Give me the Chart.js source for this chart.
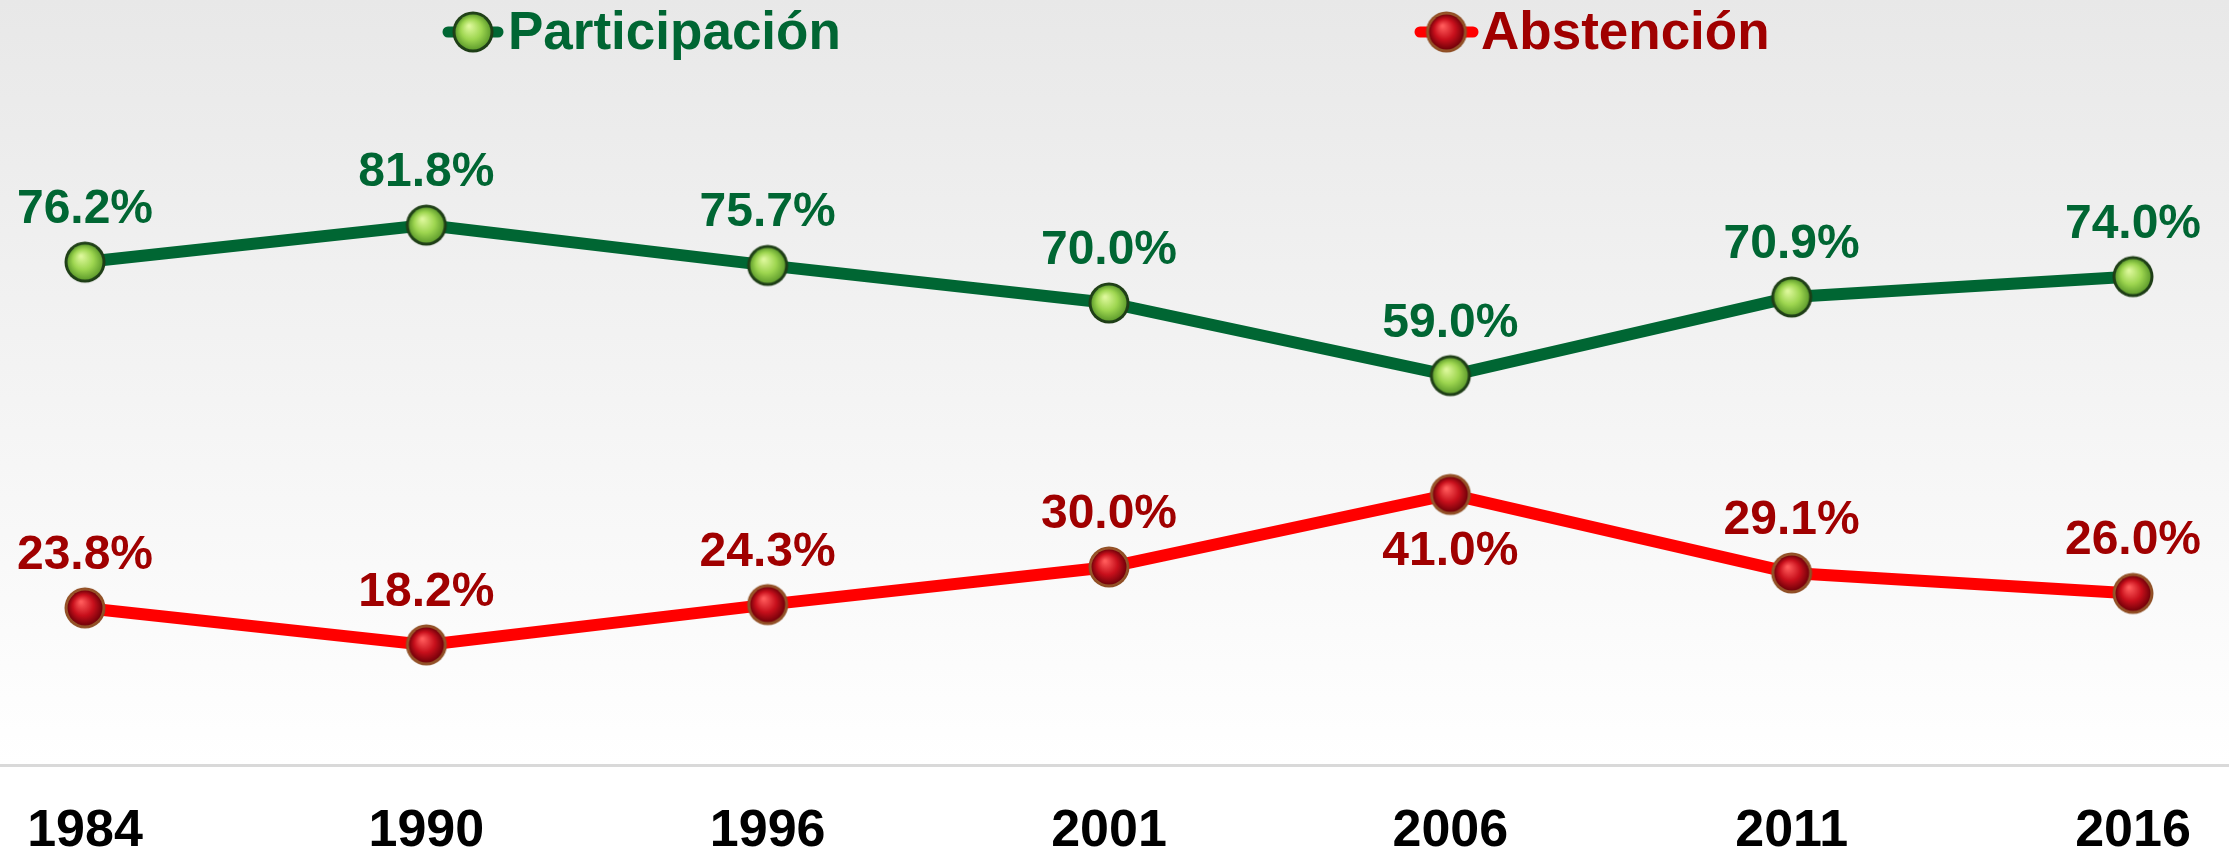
<!DOCTYPE html>
<html>
<head>
<meta charset="utf-8">
<script src="https://cdn.jsdelivr.net/npm/chart.js@4.4.1/dist/chart.umd.min.js"></script>
<style>
  html, body { margin: 0; padding: 0; background: #fff; }
  #wrap { position: relative; width: 2229px; height: 851px; }
</style>
</head>
<body>
<div id="wrap"><canvas id="chart"></canvas></div>
<script>
"use strict";

// Election years on the x axis and turnout shares (%) per year.
const YEARS = ["1984", "1990", "1996", "2001", "2006", "2011", "2016"];
const PARTICIPACION = [76.2, 81.8, 75.7, 70.0, 59.0, 70.9, 74.0];
const ABSTENCION = [23.8, 18.2, 24.3, 30.0, 41.0, 29.1, 26.0];

const FONT = "'Liberation Sans', Arial, sans-serif";
const AXIS_Y = 765;

// Glossy ball marker drawn once into an offscreen canvas.
function makeBall(ring, ringDark, hi, mid, edge) {
  const size = 44, c = size / 2;
  const cv = document.createElement("canvas");
  cv.width = size; cv.height = size;
  const g = cv.getContext("2d");
  const rg = g.createRadialGradient(c - 4, c - 5, 2, c, c, 21);
  rg.addColorStop(0, ring);
  rg.addColorStop(1, ringDark);
  g.beginPath(); g.arc(c, c, 20.5, 0, Math.PI * 2); g.fillStyle = rg; g.fill();
  const fg = g.createRadialGradient(c - 4, c - 6, 1, c, c, 18);
  fg.addColorStop(0, hi);
  fg.addColorStop(0.55, mid);
  fg.addColorStop(1, edge);
  g.beginPath(); g.arc(c, c, 17.5, 0, Math.PI * 2); g.fillStyle = fg; g.fill();
  return cv;
}

const greenBall = makeBall("#3d6b2e", "#1b3a14", "#dcf79a", "#9ed650", "#5e9c2c");
const redBall = makeBall("#e09050", "#8a4a22", "#ff5a5a", "#c8101c", "#6e0008");

// Page background: soft grey fading to white, plus the baseline rule.
const backdrop = {
  id: "backdrop",
  beforeDraw(chart) {
    const { ctx, width, height } = chart;
    ctx.save();
    const bg = ctx.createLinearGradient(0, 0, 0, AXIS_Y);
    bg.addColorStop(0, "#e8e8e8");
    bg.addColorStop(1, "#ffffff");
    ctx.fillStyle = bg;
    ctx.fillRect(0, 0, width, AXIS_Y);
    ctx.fillStyle = "#ffffff";
    ctx.fillRect(0, AXIS_Y, width, height - AXIS_Y);
    ctx.fillStyle = "#d9d9d9";
    ctx.fillRect(0, AXIS_Y - 1, width, 3);
    ctx.restore();
  },
};

// Percentage labels next to each point; the red peak gets its label underneath.
const valueLabels = {
  id: "valueLabels",
  afterDatasetsDraw(chart) {
    const { ctx } = chart;
    ctx.save();
    ctx.font = `bold 48px ${FONT}`;
    ctx.textAlign = "center";
    ctx.textBaseline = "alphabetic";
    chart.data.datasets.forEach((ds, di) => {
      const meta = chart.getDatasetMeta(di);
      const peak = Math.max(...ds.data);
      meta.data.forEach((pt, i) => {
        const v = ds.data[i];
        const below = ds.labelBelowPeak && v === peak;
        ctx.fillStyle = ds.textColor;
        ctx.fillText(v.toFixed(1) + "%", pt.x, below ? pt.y + 71 : pt.y - 39);
      });
    });
    ctx.restore();
  },
};

// Legend laid out like the original: two widely spaced entries at the top.
const topLegend = {
  id: "topLegend",
  afterDraw(chart) {
    const { ctx } = chart;
    const spots = [
      { x0: 443, x1: 503, tx: 508 },
      { x0: 1415, x1: 1478, tx: 1481 },
    ];
    ctx.save();
    chart.data.datasets.forEach((ds, i) => {
      const s = spots[i];
      const cy = 32;
      ctx.strokeStyle = ds.borderColor;
      ctx.lineWidth = 11;
      ctx.lineCap = "round";
      ctx.beginPath(); ctx.moveTo(s.x0 + 5, cy); ctx.lineTo(s.x1 - 5, cy); ctx.stroke();
      const img = ds.pointStyle;
      const cx = (s.x0 + s.x1) / 2;
      ctx.drawImage(img, cx - img.width / 2, cy - img.height / 2);
      ctx.fillStyle = ds.textColor;
      ctx.font = `bold 53px ${FONT}`;
      ctx.textAlign = "left";
      ctx.textBaseline = "alphabetic";
      ctx.fillText(ds.label, s.tx, 49);
    });
    ctx.restore();
  },
};

new Chart(document.getElementById("chart"), {
  type: "line",
  data: {
    labels: YEARS,
    datasets: [
      {
        label: "Participación",
        data: PARTICIPACION,
        borderColor: "#006633",
        textColor: "#006633",
        borderWidth: 12,
        pointStyle: greenBall,
        pointRadius: 20,
        tension: 0,
        clip: false,
      },
      {
        label: "Abstención",
        data: ABSTENCION,
        borderColor: "#ff0000",
        textColor: "#a00000",
        labelBelowPeak: true,
        borderWidth: 12,
        pointStyle: redBall,
        pointRadius: 20,
        tension: 0,
        clip: false,
      },
    ],
  },
  options: {
    responsive: true,
    maintainAspectRatio: false,
    animation: false,
    layout: { padding: { top: 105, left: 85, right: 96, bottom: 0 } },
    plugins: {
      legend: { display: false },
      tooltip: { enabled: false },
    },
    scales: {
      x: {
        offset: false,
        grid: { display: false, drawTicks: false },
        border: { display: false },
        ticks: {
          color: "#000000",
          padding: 35,
          maxRotation: 0,
          autoSkip: false,
          font: { family: FONT, size: 52, weight: "bold" },
        },
        afterFit: (scale) => {
          scale.height = 851 - AXIS_Y;
          scale.paddingLeft = 0;
          scale.paddingRight = 0;
        },
      },
      y: {
        display: false,
        min: 0,
        max: 100,
      },
    },
  },
  plugins: [backdrop, valueLabels, topLegend],
});
</script>
</body>
</html>
